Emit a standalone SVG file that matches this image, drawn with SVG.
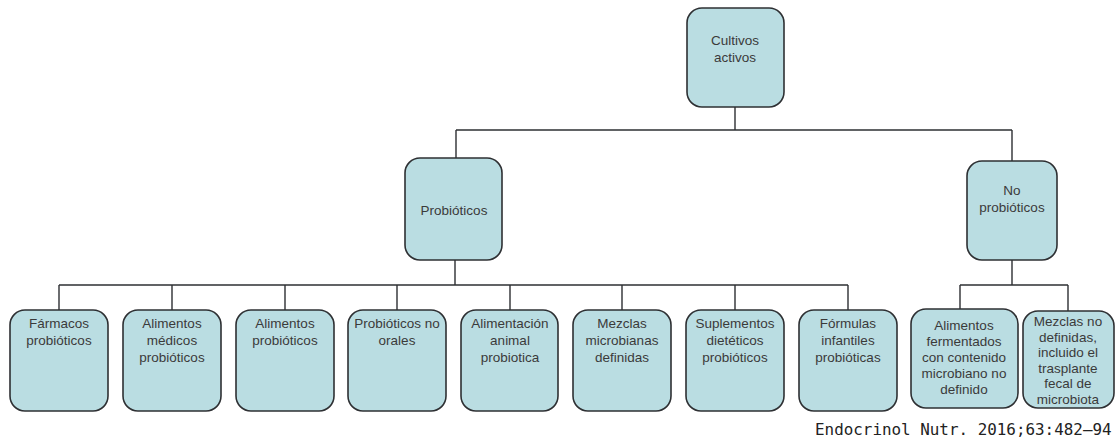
<svg xmlns="http://www.w3.org/2000/svg" width="1115" height="441" viewBox="0 0 1115 441">
<style>
.box{fill:#badde2;stroke:#2e3033;stroke-width:1.6}
.t{font-family:"Liberation Sans",Arial,sans-serif;font-size:13.5px;fill:#3a3a3a;text-anchor:middle}
.c{fill:none;stroke:#2e3033;stroke-width:1.4}
.f{font-family:"DejaVu Sans Mono",monospace;font-size:15.9px;fill:#222}
</style>
<rect width="1115" height="441" fill="#fff"/>
<g id="connectors">
<path class="c" d="M735 107V130M456 130H1012M456 130V158M1012 130V161"/>
<path class="c" d="M455 260V285M59 285H848M59 285V310M172 285V310M285 285V310M397 285V310M510 285V310M622 285V310M735 285V310M848 285V310"/>
<path class="c" d="M1012 260V285M960 285H1068M960 285V309M1068 285V311"/>
</g>
<g id="n0"><rect class="box" x="687" y="8" width="97" height="99" rx="15"/>
<text class="t" x="735" y="45">Cultivos</text><text class="t" x="735" y="62">activos</text></g>
<g id="n1"><rect class="box" x="405" y="158" width="97" height="102" rx="15"/>
<text class="t" x="454" y="215">Probióticos</text></g>
<g id="n2"><rect class="box" x="967" y="161" width="90" height="99" rx="15"/>
<text class="t" x="1012" y="195">No</text><text class="t" x="1012" y="212">probióticos</text></g>
<g id="n3"><rect class="box" x="10" y="310" width="98" height="101" rx="15"/>
<text class="t" x="59" y="328">Fármacos</text><text class="t" x="59" y="345">probióticos</text></g>
<g id="n4"><rect class="box" x="123" y="310" width="98" height="101" rx="15"/>
<text class="t" x="172" y="328">Alimentos</text><text class="t" x="172" y="345">médicos</text><text class="t" x="172" y="362">probióticos</text></g>
<g id="n5"><rect class="box" x="236" y="310" width="98" height="101" rx="15"/>
<text class="t" x="285" y="328">Alimentos</text><text class="t" x="285" y="345">probióticos</text></g>
<g id="n6"><rect class="box" x="348" y="310" width="98" height="101" rx="15"/>
<text class="t" x="397" y="328">Probióticos no</text><text class="t" x="397" y="345">orales</text></g>
<g id="n7"><rect class="box" x="461" y="310" width="97" height="101" rx="15"/>
<text class="t" x="510" y="328">Alimentación</text><text class="t" x="510" y="345">animal</text><text class="t" x="510" y="362">probiotica</text></g>
<g id="n8"><rect class="box" x="573" y="310" width="98" height="101" rx="15"/>
<text class="t" x="622" y="328">Mezclas</text><text class="t" x="622" y="345">microbianas</text><text class="t" x="622" y="362">definidas</text></g>
<g id="n9"><rect class="box" x="686" y="310" width="98" height="101" rx="15"/>
<text class="t" x="735" y="328">Suplementos</text><text class="t" x="735" y="345">dietéticos</text><text class="t" x="735" y="362">probióticos</text></g>
<g id="n10"><rect class="box" x="799" y="310" width="98" height="101" rx="15"/>
<text class="t" x="848" y="328">Fórmulas</text><text class="t" x="848" y="345">infantiles</text><text class="t" x="848" y="362">probióticas</text></g>
<g id="n11"><rect class="box" x="911" y="309" width="107" height="99" rx="15"/>
<text class="t" x="964" y="330">Alimentos</text><text class="t" x="964" y="346">fermentados</text><text class="t" x="964" y="362">con contenido</text><text class="t" x="964" y="378">microbiano no</text><text class="t" x="964" y="394">definido</text></g>
<g id="n12"><rect class="box" x="1023" y="311" width="91" height="97" rx="15"/>
<text class="t" x="1068" y="326">Mezclas no</text><text class="t" x="1068" y="341.5">definidas,</text><text class="t" x="1068" y="357">incluido el</text><text class="t" x="1068" y="372.5">trasplante</text><text class="t" x="1068" y="388">fecal de</text><text class="t" x="1068" y="403.5">microbiota</text></g>
<text class="f" x="815" y="435">Endocrinol Nutr. 2016;63:482–94</text>
</svg>
